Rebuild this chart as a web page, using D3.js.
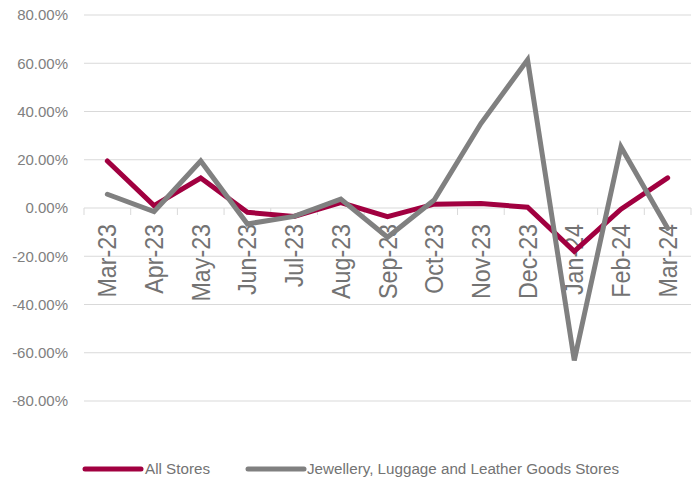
<!DOCTYPE html>
<html><head><meta charset="utf-8">
<script src="https://cdn.jsdelivr.net/npm/d3@7"></script>
<style>body{margin:0;background:#fff;}svg{display:block;font-family:"Liberation Sans",Arial,sans-serif;}</style>
</head><body><svg id="c" width="697" height="480"></svg>
<script>
const categories = ["Mar-23","Apr-23","May-23","Jun-23","Jul-23","Aug-23","Sep-23","Oct-23","Nov-23","Dec-23","Jan-24","Feb-24","Mar-24"];
const allStores = [19.5, 1.0, 12.4, -1.8, -3.5, 2.2, -3.6, 1.6, 1.9, 0.3, -18.0, -0.5, 12.5];
const jewellery = [5.7, -1.5, 19.5, -6.6, -3.5, 3.7, -12.1, 3.3, 35.0, 61.4, -63.2, 25.3, -8.4];
const yTicks = [80, 60, 40, 20, 0, -20, -40, -60, -80];
const seriesNames = ["All Stores", "Jewellery, Luggage and Leather Goods Stores"];
const colors = ["#A10040", "#808080"];

const svg = d3.select("#c");
const x = d3.scaleBand().domain(categories).range([84, 691]);
const y = d3.scaleLinear().domain([-80, 80]).range([401, 15]);

// gridlines
svg.append("g").selectAll("line").data(yTicks.filter(d => d !== 0)).join("line")
  .attr("x1", 84).attr("x2", 691).attr("y1", d => y(d)).attr("y2", d => y(d))
  .attr("stroke", "#d9d9d9").attr("stroke-width", 1);

// y labels
svg.append("g").selectAll("text").data(yTicks).join("text")
  .attr("x", 68).attr("y", d => y(d)).attr("dy", "0.35em")
  .attr("text-anchor", "end").attr("fill", "#808080").attr("font-size", 15)
  .text(d => d.toFixed(2) + "%");

// x axis line at 0 and tick marks
const y0 = y(0);
svg.append("line").attr("x1", 84).attr("x2", 691).attr("y1", y0).attr("y2", y0)
  .attr("stroke", "#d9d9d9").attr("stroke-width", 1);
const bounds = categories.map(c => x(c)).concat([x.range()[1]]);
svg.append("g").selectAll("line").data(bounds).join("line")
  .attr("x1", d => d).attr("x2", d => d).attr("y1", y0).attr("y2", y0 + 7)
  .attr("stroke", "#d9d9d9").attr("stroke-width", 1);

// x labels rotated
svg.append("g").selectAll("text").data(categories).join("text")
  .attr("transform", d => `translate(${x(d) + x.bandwidth()/2 + 9},${y0 + 16}) rotate(-90) scale(0.93,1)`)
  .attr("text-anchor", "end").attr("fill", "#737373").attr("font-size", 25)
  .text(d => d);

// lines
const line = d3.line().x((d, i) => x(categories[i]) + x.bandwidth()/2).y(d => y(d));
[allStores, jewellery].forEach((s, k) => {
  svg.append("path").datum(s).attr("d", line).attr("fill", "none")
    .attr("stroke", colors[k]).attr("stroke-width", 5)
    .attr("stroke-linejoin", "miter").attr("stroke-linecap", "round");
});

// legend
const leg = [{x1: 85, x2: 141, tx: 145}, {x1: 248, x2: 304, tx: 307}];
leg.forEach((l, k) => {
  svg.append("line").attr("x1", l.x1).attr("x2", l.x2).attr("y1", 469).attr("y2", 469)
    .attr("stroke", colors[k]).attr("stroke-width", 5).attr("stroke-linecap", "round");
  svg.append("text").attr("x", l.tx).attr("y", 469).attr("dy", "0.35em")
    .attr("fill", "#737373").attr("font-size", 15.2).text(seriesNames[k]);
});
</script></body></html>
